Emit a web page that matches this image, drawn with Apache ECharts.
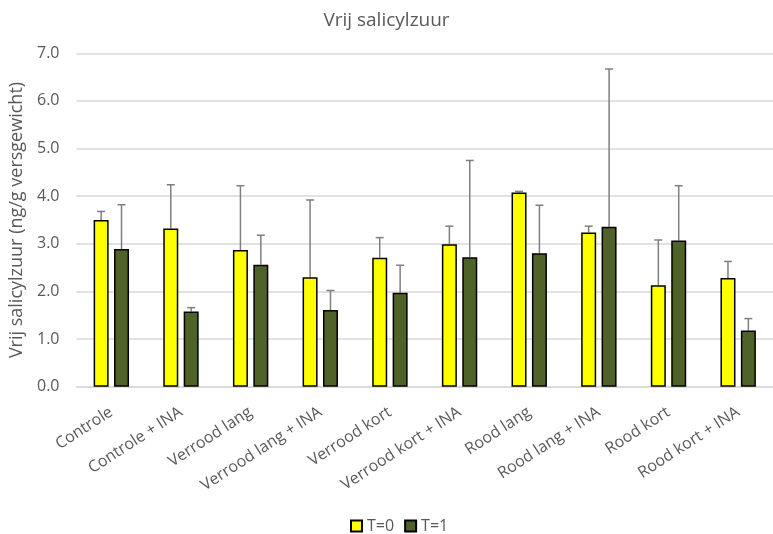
<!DOCTYPE html>
<html>
<head>
<meta charset="utf-8">
<script src="https://cdn.jsdelivr.net/npm/echarts@6/dist/echarts.min.js"></script>
<style>
  html, body { margin: 0; padding: 0; background: #fff; }
  #chart { width: 773px; height: 534px; }
</style>
</head>
<body>
<div id="chart"></div>
<script>
  // categorieen en waarden
  var categories = ['Controle', 'Controle + INA', 'Verrood lang', 'Verrood lang + INA', 'Verrood kort',
    'Verrood kort + INA', 'Rood lang', 'Rood lang + INA', 'Rood kort', 'Rood kort + INA'];
  var seriesNames = ['T=0', 'T=1'];
  var t0 = [3.50, 3.32, 2.87, 2.30, 2.71, 2.99, 4.08, 3.24, 2.13, 2.28];
  var t1 = [2.89, 1.58, 2.56, 1.61, 1.97, 2.72, 2.80, 3.36, 3.07, 1.18];
  // foutbalken (alleen naar boven)
  var t0Err = [0.18, 0.92, 1.35, 1.62, 0.42, 0.38, 0.02, 0.13, 0.95, 0.35];
  var t1Err = [0.93, 0.08, 0.62, 0.41, 0.58, 2.03, 1.01, 3.31, 1.15, 0.25];
  var yTicks = [0, 1, 2, 3, 4, 5, 6, 7];

  var App = {};

  App.init = function () {
    var chart = echarts.init(document.getElementById('chart'));
    var font = 'Open Sans';
    var barWidth = 15;
    var barGap = 0.36;
    var half = (barWidth + barWidth * barGap) / 2;

    // custom serie voor de foutbalken
    var errSeries = function (vals, errs, offset) {
      var data = vals.map(function (v, i) { return [i, v, v + errs[i]]; });
      return {
        type: 'custom',
        silent: true,
        z: 1,
        data: data,
        renderItem: function (params, api) {
          var lo = api.coord([api.value(0), api.value(1)]);
          var hi = api.coord([api.value(0), api.value(2)]);
          var x = lo[0] + offset;
          var st = { stroke: '#7f7f7f', lineWidth: 1.5 };
          return {
            type: 'group',
            children: [
              { type: 'line', shape: { x1: x, y1: lo[1], x2: x, y2: hi[1] }, style: st },
              { type: 'line', shape: { x1: x - 4, y1: hi[1], x2: x + 4, y2: hi[1] }, style: st }
            ]
          };
        }
      };
    };

    var option = {
      backgroundColor: '#fff',
      animation: false,
      title: {
        text: 'Vrij salicylzuur',
        left: 'center',
        top: 6,
        textStyle: { fontFamily: font, fontSize: 19, fontWeight: 'normal', color: '#595959' }
      },
      legend: {
        data: seriesNames,
        top: 513,
        left: 345,
        icon: 'rect',
        itemWidth: 11,
        itemHeight: 11,
        itemGap: 10,
        textStyle: { fontFamily: font, fontSize: 16, color: '#595959' }
      },
      grid: { left: 76.5, right: -7.5, top: 53.3, bottom: 147.3, containLabel: false },
      xAxis: {
        type: 'category',
        data: categories,
        axisLine: { lineStyle: { color: '#d9d9d9', width: 1.5 } },
        axisTick: { show: false },
        axisLabel: {
          interval: 0,
          rotate: 33,
          margin: 24,
          fontFamily: font,
          fontSize: 16,
          color: '#595959'
        }
      },
      yAxis: {
        type: 'value',
        min: yTicks[0],
        max: yTicks[yTicks.length - 1],
        interval: 1,
        name: 'Vrij salicylzuur (ng/g versgewicht)',
        nameLocation: 'middle',
        nameGap: 38,
        nameTextStyle: { fontFamily: font, fontSize: 18, color: '#595959' },
        axisLine: { show: false },
        axisTick: { show: false },
        axisLabel: {
          margin: 17,
          fontFamily: font,
          fontSize: 16,
          color: '#595959',
          formatter: function (v) { return v.toFixed(1); }
        },
        splitLine: { lineStyle: { color: '#d9d9d9', width: 1.5 } }
      },
      series: [
        {
          name: seriesNames[0],
          type: 'bar',
          data: t0,
          barWidth: barWidth,
          barGap: (barGap * 100) + '%',
          z: 2,
          itemStyle: { color: '#ffff00', borderColor: '#000', borderWidth: 1.5 }
        },
        {
          name: seriesNames[1],
          type: 'bar',
          data: t1,
          barWidth: barWidth,
          z: 2,
          itemStyle: { color: '#4f6228', borderColor: '#000', borderWidth: 1.5 }
        },
        errSeries(t0, t0Err, -half),
        errSeries(t1, t1Err, half)
      ]
    };

    chart.setOption(option);
  };

  App.init();
</script>
</body>
</html>
